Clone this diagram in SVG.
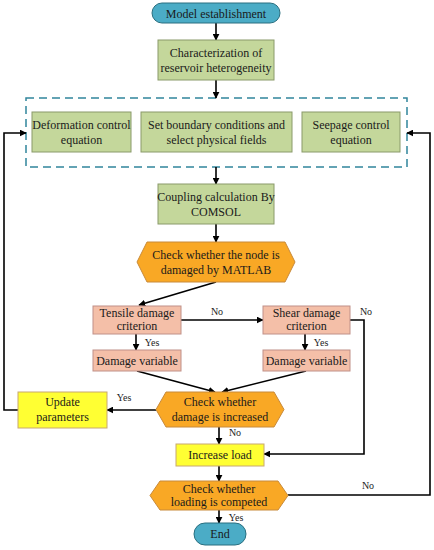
<svg xmlns="http://www.w3.org/2000/svg" width="434" height="550" viewBox="0 0 434 550">
<style>
text{font-family:'Liberation Serif',serif;font-size:12px;fill:#1a1a1a;text-anchor:middle}
.lbl{font-size:10px;fill:#222}
.term{fill:#4BACC6;stroke:#2A6F80;stroke-width:1}
.green{fill:#C4D79B;stroke:#8A9A6A;stroke-width:1}
.hex{fill:#F9A825;stroke:#C88A3A;stroke-width:1}
.sal{fill:#F4BFA8;stroke:#C09088;stroke-width:1}
.yel{fill:#FFFF33;stroke:#C8A870;stroke-width:1}
.ln{fill:none;stroke:#000;stroke-width:1.6}
</style>
<defs>
<marker id="ah" viewBox="0 0 10 10" refX="9" refY="5" markerWidth="7" markerHeight="7" markerUnits="userSpaceOnUse" orient="auto"><path d="M0,0 L10,5 L0,10 z" fill="#000"/></marker>
</defs>
<rect width="434" height="550" fill="#fff"/>
<rect x="26" y="98" width="381" height="69" fill="none" stroke="#31859C" stroke-width="1.5" stroke-dasharray="8,5"/>
<g id="connectors">
<line class="ln" x1="216" y1="23" x2="216" y2="40" marker-end="url(#ah)"/>
<line class="ln" x1="216" y1="80" x2="216" y2="98" marker-end="url(#ah)"/>
<line class="ln" x1="216" y1="167" x2="216" y2="184" marker-end="url(#ah)"/>
<line class="ln" x1="216" y1="224" x2="216" y2="242" marker-end="url(#ah)"/>
<line class="ln" x1="216" y1="282" x2="139" y2="305" marker-end="url(#ah)"/>
<line class="ln" x1="181" y1="320" x2="263" y2="320" marker-end="url(#ah)"/>
<line class="ln" x1="136" y1="334" x2="136" y2="350" marker-end="url(#ah)"/>
<line class="ln" x1="305" y1="334" x2="305" y2="350" marker-end="url(#ah)"/>
<line class="ln" x1="137" y1="371" x2="215" y2="392" marker-end="url(#ah)"/>
<line class="ln" x1="306" y1="371" x2="222" y2="392" marker-end="url(#ah)"/>
<polyline class="ln" points="350,320 364,320 364,454 264,454" marker-end="url(#ah)"/>
<line class="ln" x1="156" y1="410" x2="107" y2="410" marker-end="url(#ah)"/>
<polyline class="ln" points="18,410 4,410 4,133 26,133" marker-end="url(#ah)"/>
<line class="ln" x1="219" y1="427" x2="219" y2="444" marker-end="url(#ah)"/>
<line class="ln" x1="219" y1="466" x2="219" y2="481" marker-end="url(#ah)"/>
<polyline class="ln" points="288,495 430,495 430,133 407,133" marker-end="url(#ah)"/>
<line class="ln" x1="219" y1="510" x2="219" y2="523" marker-end="url(#ah)"/>
<text class="lbl" x="217" y="315">No</text>
<text class="lbl" x="366" y="315">No</text>
<text class="lbl" x="152" y="346">Yes</text>
<text class="lbl" x="321" y="346">Yes</text>
<text class="lbl" x="124" y="401">Yes</text>
<text class="lbl" x="235" y="436">No</text>
<text class="lbl" x="368" y="489">No</text>
<text class="lbl" x="236" y="521">Yes</text>
</g>
<g id="model"><rect class="term" x="152" y="3" width="128" height="20" rx="10"/><text x="216" y="17.5">Model establishment</text></g>
<g id="character"><rect class="green" x="158" y="40" width="116" height="40"/><text x="216" y="57">Characterization of</text><text x="216" y="72">reservoir heterogeneity</text></g>
<g id="deform"><rect class="green" x="32" y="112" width="99" height="40"/><text x="81.5" y="129">Deformation control</text><text x="81.5" y="144">equation</text></g>
<g id="boundary"><rect class="green" x="141" y="112" width="151" height="40"/><text x="216.5" y="129">Set boundary conditions and</text><text x="216.5" y="144">select physical fields</text></g>
<g id="seepage"><rect class="green" x="302" y="112" width="98" height="40"/><text x="351" y="129">Seepage control</text><text x="351" y="144">equation</text></g>
<g id="coupling"><rect class="green" x="158" y="184" width="116" height="40"/><text x="216" y="201">Coupling calculation By</text><text x="216" y="216">COMSOL</text></g>
<g id="checknode"><polygon class="hex" points="147,242 285,242 295,262 285,282 147,282 137,262"/><text x="216" y="259">Check whether the node is</text><text x="216" y="274">damaged by MATLAB</text></g>
<g id="tensile"><rect class="sal" x="93" y="306" width="88" height="28"/><text x="137" y="317">Tensile damage</text><text x="137" y="330">criterion</text></g>
<g id="shear"><rect class="sal" x="263" y="306" width="87" height="28"/><text x="306.5" y="317">Shear damage</text><text x="306.5" y="330">criterion</text></g>
<g id="dv1"><rect class="sal" x="93" y="350" width="88" height="21"/><text x="137" y="365">Damage variable</text></g>
<g id="dv2"><rect class="sal" x="263" y="350" width="87" height="21"/><text x="306.5" y="365">Damage variable</text></g>
<g id="checkdamage"><polygon class="hex" points="166,392 274,392 284,409.5 274,427 166,427 156,409.5"/><text x="220" y="406">Check whether</text><text x="220" y="421">damage is increased</text></g>
<g id="update"><rect class="yel" x="18" y="392" width="89" height="36"/><text x="62.5" y="406">Update</text><text x="62.5" y="421">parameters</text></g>
<g id="increase"><rect class="yel" x="176" y="444" width="88" height="22"/><text x="220" y="459">Increase load</text></g>
<g id="checkload"><polygon class="hex" points="160,481 278,481 288,495.5 278,510 160,510 150,495.5"/><text x="219" y="493">Check whether</text><text x="219" y="506">loading is competed</text></g>
<g id="end"><rect class="term" x="194" y="523" width="52" height="22" rx="11"/><text x="220" y="538">End</text></g>
</svg>
